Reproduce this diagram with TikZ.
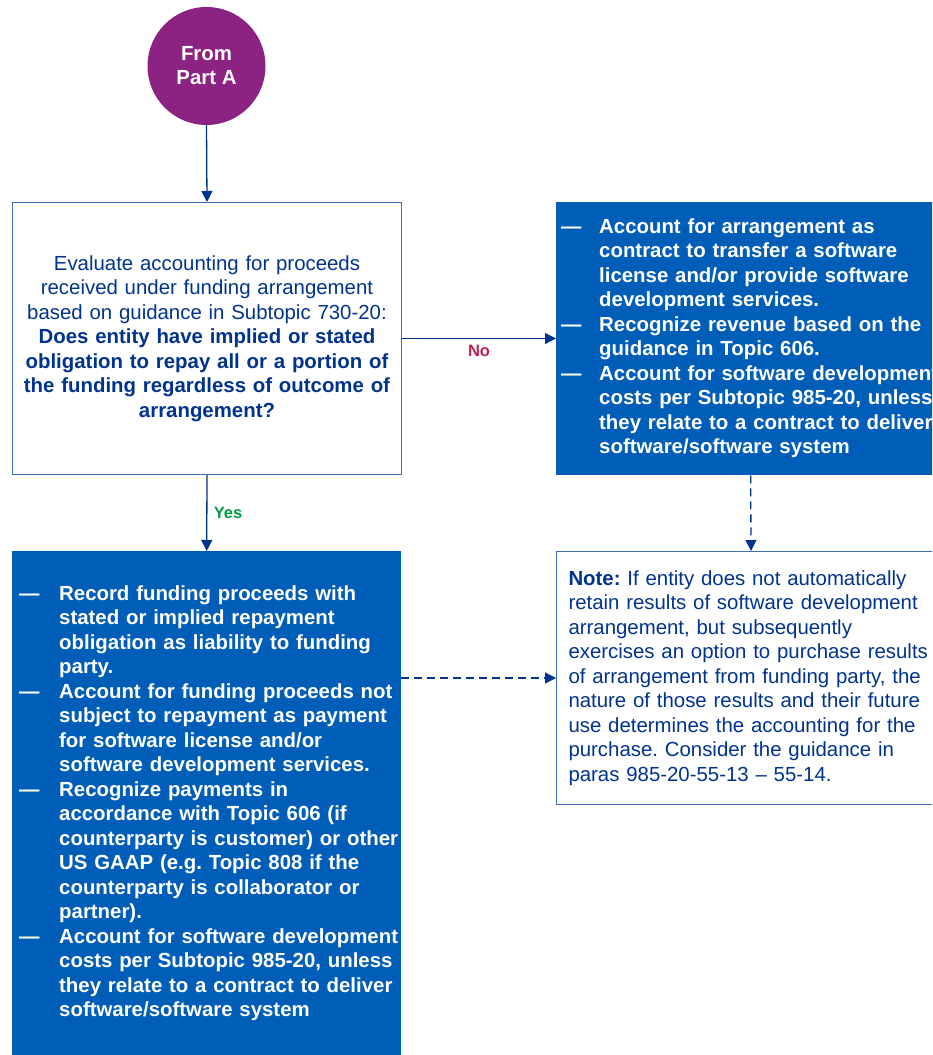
\documentclass[tikz,border=0pt]{standalone}
\usepackage{fontspec}
\setmainfont{Liberation Sans}
\usetikzlibrary{arrows.meta}

\definecolor{kpurple}{HTML}{8C2383}
\definecolor{kcobalt}{HTML}{005EB8}
\definecolor{knavy}{HTML}{00338D}
\definecolor{kborder}{HTML}{3A6DB5}
\definecolor{kred}{HTML}{BC204B}
\definecolor{kgreen}{HTML}{009A44}

\newcommand{\dashlist}[2]{\begin{tabular}{@{}p{#1}@{}l@{}}#2\end{tabular}}
\frenchspacing

\begin{document}
\begin{tikzpicture}[x=1pt, y=-1pt,
    every node/.style={font=\fontsize{20.4}{24.5}\selectfont},
    startnode/.style={circle, fill=kpurple, text=white, minimum size=118pt, align=center,
      font=\fontsize{20.4}{24}\selectfont\bfseries},
    whitebox/.style={draw=kborder, line width=1pt, text=knavy, anchor=north west, minimum width=389pt},
    bluebox/.style={fill=kcobalt, text=white, anchor=north west, minimum width=389pt, align=left,
      font=\fontsize{20.4}{24.5}\selectfont\bfseries},
    flow/.style={draw=knavy, line width=1.3pt, -{Triangle[length=11pt,width=11pt]}},
    flowdash/.style={flow, dash pattern=on 8pt off 5pt},
    answer/.style={font=\fontsize{16.5}{20}\selectfont\bfseries}
  ]
      \path[use as bounding box, clip] (0,0) rectangle (932,1055);

      \node[startnode] (partA) at (206.5,66) {From\\Part A};

      \node[whitebox, minimum height=272pt, text width=375pt, inner xsep=7pt, align=center] (evaluate) at (12,202)
        {Evaluate accounting for proceeds\\
         received under funding arrangement\\
         based on guidance in Subtopic 730-20:\\
         \textbf{Does entity have implied or stated}\\
         \textbf{obligation to repay all or a portion of}\\
         \textbf{the funding regardless of outcome of}\\
         \textbf{arrangement?}};

      \node[bluebox, minimum height=273pt, text width=379pt, inner xsep=5pt] (software) at (556,202)
        {\dashlist{38pt}{
           — & Account for arrangement as\\
             & contract to transfer a software\\
             & license and/or provide software\\
             & development services.\\
           — & Recognize revenue based on the\\
             & guidance in Topic 606.\\
           — & Account for software development\\
             & costs per Subtopic 985-20, unless\\
             & they relate to a contract to deliver\\
             & software/software system}};

      \node[whitebox, minimum height=253pt, text width=365pt, inner xsep=12pt, align=left] (note) at (556,551)
        {\textbf{Note:} If entity does not automatically\\
         retain results of software development\\
         arrangement, but subsequently\\
         exercises an option to purchase results\\
         of arrangement from funding party, the\\
         nature of those results and their future\\
         use determines the accounting for the\\
         purchase. Consider the guidance in\\
         paras 985-20-55-13 – 55-14.};

      \node[bluebox, minimum height=505pt, text width=375pt, inner xsep=7pt] (liability) at (12,551)
        {\dashlist{40pt}{
           — & Record funding proceeds with\\
             & stated or implied repayment\\
             & obligation as liability to funding\\
             & party.\\
           — & Account for funding proceeds not\\
             & subject to repayment as payment\\
             & for software license and/or\\
             & software development services.\\
           — & Recognize payments in\\
             & accordance with Topic 606 (if\\
             & counterparty is customer) or other\\
             & US GAAP (e.g. Topic 808 if the\\
             & counterparty is collaborator or\\
             & partner).\\
           — & Account for software development\\
             & costs per Subtopic 985-20, unless\\
             & they relate to a contract to deliver\\
             & software/software system}};

      \draw[flow] (partA.south) -- (evaluate.north);
      \draw[flow] (evaluate.east) -- node[answer, text=kred, below=3pt] (no) {No} (evaluate.east -| software.west);
      \draw[flow] (evaluate.south) -- node[answer, text=kgreen, right=3pt] (yes) {Yes} (liability.north);
      \draw[flowdash] (software.south) -- (note.north);
      \draw[flowdash] (liability.east |- note.west) -- (note.west);

\end{tikzpicture}
\end{document}
